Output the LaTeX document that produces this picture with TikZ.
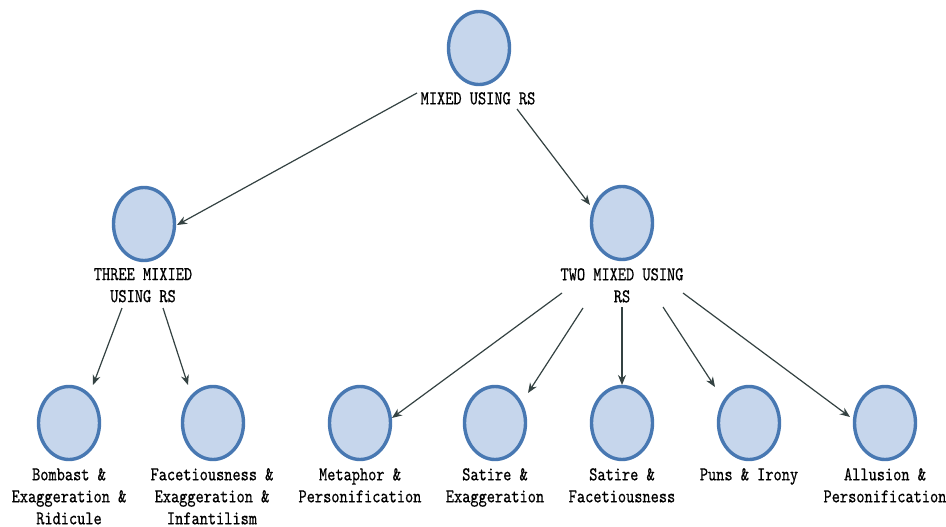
\documentclass[tikz,border=0pt]{standalone}
\usepackage{fontspec}
\setmonofont{lmmono10-regular.otf}[FakeStretch=0.8,FakeBold=0.6]
\usetikzlibrary{shapes.geometric,arrows.meta,calc}
\definecolor{cfill}{RGB}{198,214,236}
\definecolor{cline}{RGB}{72,120,178}
\definecolor{cedge}{RGB}{52,66,66}
\tikzset{
  bubble/.style={ellipse, draw=cline, fill=cfill, line width=3.4pt, minimum width=61pt, minimum height=73pt, inner sep=0pt},
  lab/.style={anchor=north, inner sep=0pt, align=center, font=\ttfamily\fontsize{19.5}{22}\selectfont},
  arr/.style={draw=cedge, line width=1.2pt, -{Stealth[length=10pt,width=8pt]}}
}
\begin{document}
\begin{tikzpicture}[x=1pt,y=-1pt]
\useasboundingbox[fill=white] (0,0) rectangle (946,527);
% nodes
\node[bubble] (top) at (479,48) {};
\node[lab] (ltop) at (478,92) {MIXED USING RS};
\node[bubble] (three) at (144,224) {};
\node[lab] (lthree) at (143,268) {THREE MIXIED\\USING RS};
\node[bubble] (two) at (622,223) {};
\node[lab] (ltwo) at (622,268) {TWO MIXED USING\\RS};
\node[bubble] (bomb) at (69,423) {};
\node[lab] (lbomb) at (69,468) {Bombast \&\\Exaggeration \&\\Ridicule};
\node[bubble] (facet) at (213,423) {};
\node[lab] (lfacet) at (212,468) {Facetiousness \&\\Exaggeration \&\\Infantilism};
\node[bubble] (meta) at (360,423) {};
\node[lab] (lmeta) at (360,468) {Metaphor \&\\Personification};
\node[bubble] (sate) at (495,423) {};
\node[lab] (lsate) at (495,468) {Satire \&\\Exaggeration};
\node[bubble] (satf) at (622,423) {};
\node[lab] (lsatf) at (622,468) {Satire \&\\Facetiousness};
\node[bubble] (puns) at (749,423) {};
\node[lab] (lpuns) at (749,468) {Puns \& Irony};
\node[bubble] (allu) at (885,423) {};
\node[lab] (lallu) at (885,468) {Allusion \&\\Personification};
% edges
\draw[arr] ($(ltop.north)+(-61,1)$) -- ($(three)+(33,1)$);
\draw[arr] ($(ltop.north)+(39,17)$) -- ($(two)+(-32,-18)$);
\draw[arr] ($(lthree.north)+(-21,40)$) -- ($(bomb)+(24,-38)$);
\draw[arr] ($(lthree.north)+(20,40)$) -- ($(facet)+(-25,-38)$);
\draw[arr] ($(ltwo.north)+(-60,25)$) -- ($(meta)+(32,-5)$);
\draw[arr] ($(ltwo.north)+(-39,40)$) -- ($(sate)+(33,-30)$);
\draw[arr] ($(ltwo.north)+(0,39)$) -- ($(satf)+(0,-38)$);
\draw[arr] ($(ltwo.north)+(41,39)$) -- ($(puns)+(-34,-36)$);
\draw[arr] ($(ltwo.north)+(61,25)$) -- ($(allu)+(-35,-6)$);
\end{tikzpicture}
\end{document}
